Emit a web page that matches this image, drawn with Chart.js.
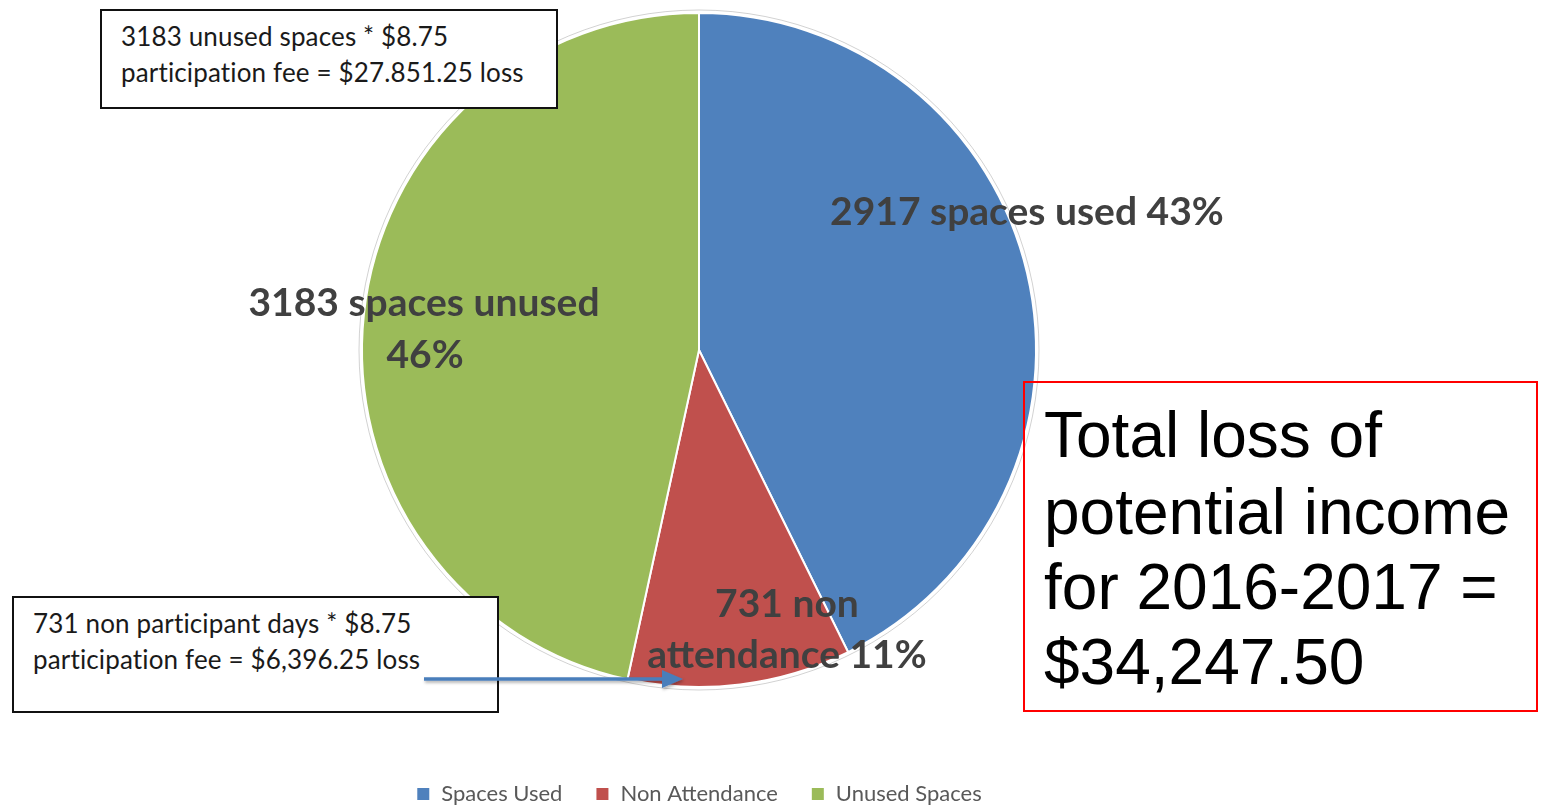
<!DOCTYPE html>
<html>
<head>
<meta charset="utf-8">
<script src="https://cdn.jsdelivr.net/npm/chart.js@4.4.1/dist/chart.umd.min.js"></script>
<style>
  html, body { margin: 0; padding: 0; background: #ffffff; }
  #wrap { position: relative; width: 1545px; height: 807px; overflow: hidden; }
  #c { position: absolute; left: 0; top: 0; }
  .note { position: absolute; box-sizing: border-box; background: #fff; border: 2px solid #111; font-family: Lato, "Open Sans", sans-serif; color: #1a1a1a; }
  .note div { position: absolute; white-space: nowrap; line-height: 1; }
  #total { position: absolute; box-sizing: border-box; border: 2px solid #ff0000; background: transparent; font-family: "Liberation Sans", Arial, sans-serif; color: #000; font-size: 64px; }
  #total div { position: absolute; left: 19px; white-space: nowrap; line-height: 1; }
  svg { position: absolute; left: 0; top: 0; pointer-events: none; }
</style>
</head>
<body>
<div id="wrap">
  <canvas id="c" width="1545" height="807"></canvas>
  <div class="note" style="left:100px; top:9px; width:458px; height:100px; font-size:26px; letter-spacing:0.15px;">
    <div style="left:19px; top:12px;">3183 unused spaces * $8.75</div>
    <div style="left:19px; top:48px;">participation fee = $27.851.25 loss</div>
  </div>
  <div class="note" style="left:12px; top:596px; width:487px; height:117px; font-size:26px; letter-spacing:0.15px;">
    <div style="left:19px; top:12px;">731 non participant days * $8.75</div>
    <div style="left:19px; top:48px;">participation fee = $6,396.25 loss</div>
  </div>
  <div id="total" style="left:1023px; top:381px; width:515px; height:331px;">
    <div style="top:20px;">Total loss of</div>
    <div style="top:97px;">potential income</div>
    <div style="top:172px;">for 2016-2017 =</div>
    <div style="top:247px;">$34,247.50</div>
  </div>
  <svg width="1545" height="807">
    <defs>
      <filter id="sh" x="-5%" y="-50%" width="110%" height="300%">
        <feDropShadow dx="1" dy="2" stdDeviation="1.5" flood-color="#000" flood-opacity="0.3"/>
      </filter>
    </defs>
    <g filter="url(#sh)">
      <line x1="424" y1="679" x2="664" y2="679" stroke="#4A7EBB" stroke-width="3.5"/>
      <polygon points="683,679 662,670 662,688" fill="#4A7EBB"/>
    </g>
  </svg>
</div>
<script>
// ---- data ----
const categories = ['Spaces Used', 'Non Attendance', 'Unused Spaces'];
const values = [2917, 731, 3183];
const percentLabels = ['43%', '11%', '46%'];
const sliceColors = ['#4F81BD', '#C0504D', '#9BBB59'];
const labelLines = [
  ['2917 spaces used 43%'],
  ['731 non', 'attendance 11%'],
  ['3183 spaces unused', '46%']
];
// label anchors relative to pie centre, in units of the pie radius
const labelAnchors = [
  [[0.973, -0.407]],
  [[0.261, 0.754], [0.261, 0.905]],
  [[-0.816, -0.139], [-0.813, 0.015]]
];

const dataLabelPlugin = {
  id: 'dataLabelPlugin',
  beforeDatasetsDraw(chart) {
    const arc = chart.getDatasetMeta(0).data[0];
    if (!arc) return;
    const ctx = chart.ctx;
    ctx.save();
    ctx.beginPath();
    ctx.arc(arc.x, arc.y, arc.outerRadius + 3, 0, Math.PI * 2);
    ctx.strokeStyle = 'rgba(0,0,0,0.18)';
    ctx.lineWidth = 1;
    ctx.stroke();
    ctx.restore();
  },
  afterDatasetsDraw(chart) {
    const meta = chart.getDatasetMeta(0);
    const ctx = chart.ctx;
    ctx.save();
    ctx.font = 'bold 39px Lato, "Open Sans", sans-serif';
    ctx.fillStyle = '#404040';
    ctx.textAlign = 'center';
    ctx.textBaseline = 'middle';
    meta.data.forEach((arc, i) => {
      const r = arc.outerRadius;
      labelLines[i].forEach((line, j) => {
        const a = labelAnchors[i][j];
        ctx.fillText(line, arc.x + a[0] * r, arc.y + a[1] * r);
      });
    });
    ctx.restore();
  }
};

new Chart(document.getElementById('c'), {
  type: 'pie',
  data: {
    labels: categories,
    datasets: [{
      data: values,
      backgroundColor: sliceColors,
      borderColor: '#ffffff',
      borderWidth: 2,
      radius: 337
    }]
  },
  options: {
    responsive: false,
    animation: false,
    layout: { padding: { top: 0, left: 0, right: 147, bottom: -8 } },
    plugins: {
      tooltip: { enabled: false },
      legend: {
        position: 'bottom',
        title: { display: true, text: ' ', font: { size: 10, lineHeight: 1 }, padding: { top: 0, bottom: 40 } },
        labels: {
          boxWidth: 14,
          boxHeight: 14,
          padding: 33,
          color: '#595959',
          font: { family: 'Lato, "Open Sans", sans-serif', size: 22 }
        }
      }
    }
  },
  plugins: [dataLabelPlugin]
});
</script>
</body>
</html>
